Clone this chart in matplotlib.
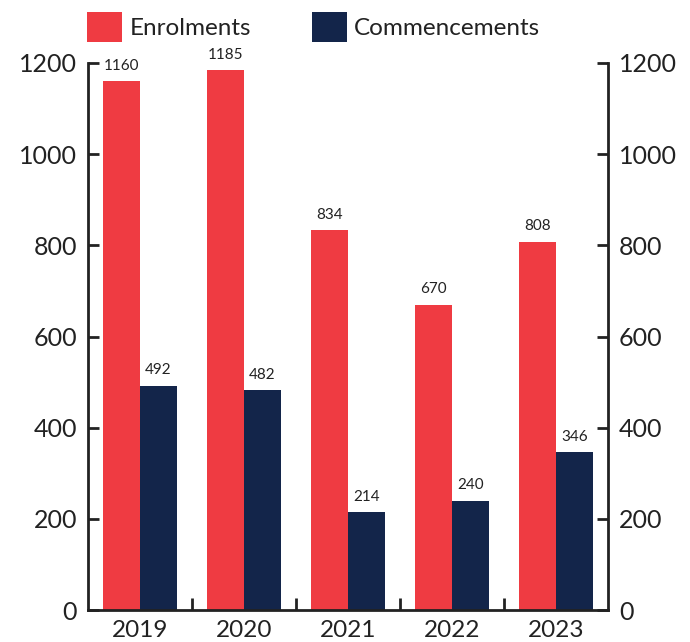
import matplotlib
matplotlib.use("Agg")
import matplotlib.pyplot as plt
import numpy as np
from matplotlib.patches import Patch

plt.rcParams['font.family'] = ['Lato', 'DejaVu Sans']

years = ["2019", "2020", "2021", "2022", "2023"]
enrolments = [1160, 1185, 834, 670, 808]
commencements = [492, 482, 214, 240, 346]

red = "#EF3B42"
navy = "#13254A"
dark = "#222222"

fig = plt.figure(figsize=(6.9, 6.42), dpi=100)
ax = fig.add_axes([88/690, 1-610/642, (608-88)/690, (610-63)/642])

x = np.arange(len(years))
w = 0.355
b1 = ax.bar(x - w/2, enrolments, w, color=red)
b2 = ax.bar(x + w/2, commencements, w, color=navy)
for rect, v in zip(b1, enrolments):
    ax.annotate(str(v), (rect.get_x() + rect.get_width()/2, v), xytext=(0, 6),
                textcoords="offset points", ha="center", va="bottom", fontsize=11, color=dark,
                annotation_clip=False)
for rect, v in zip(b2, commencements):
    ax.annotate(str(v), (rect.get_x() + rect.get_width()/2, v), xytext=(0, 6),
                textcoords="offset points", ha="center", va="bottom", fontsize=11, color=dark,
                annotation_clip=False)

ax.set_xlim(-0.5, len(years) - 0.5)
ax.set_ylim(0, 1200)
ax.set_yticks(range(0, 1201, 200))
ax.set_xticks(x)
ax.set_xticklabels(years)
ax.set_xticks(np.arange(0.5, len(years) - 1, 1), minor=True)

ax.spines['top'].set_visible(False)
for s in ['left', 'right', 'bottom']:
    ax.spines[s].set_linewidth(2)
    ax.spines[s].set_color(dark)

ax.tick_params(axis='y', direction='in', length=8, width=2, color=dark,
               labelsize=18, labelcolor=dark, pad=8, left=True, right=True,
               labelleft=True, labelright=True)
ax.tick_params(axis='x', which='major', length=0, labelsize=17.5, labelcolor=dark, pad=7)
ax.tick_params(axis='x', which='minor', direction='in', length=9, width=2, color=dark)

handles = [Patch(facecolor=red, label="Enrolments"), Patch(facecolor=navy, label="Commencements")]
fig.legend(handles=handles, loc='upper left', bbox_to_anchor=(65/690, 1 + 10/642), ncol=2,
           frameon=False, fontsize=17.5, handlelength=1.45, handleheight=1.5,
           handletextpad=0.3, columnspacing=2.5, labelcolor=dark)

fig.savefig("out.png", dpi=100)
